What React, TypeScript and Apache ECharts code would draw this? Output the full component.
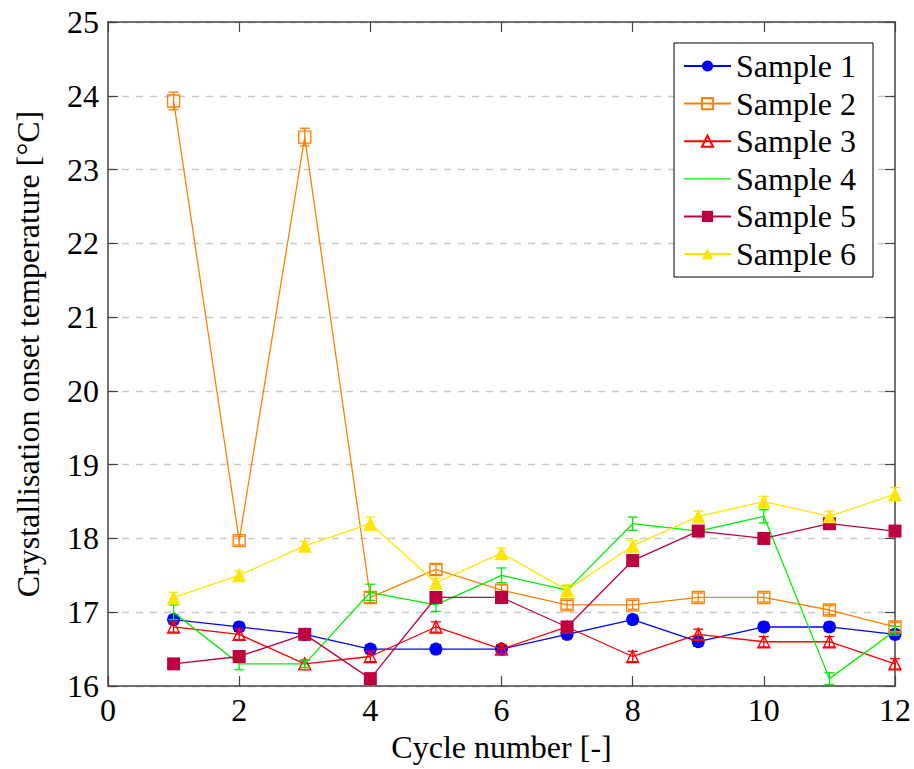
import React, { useEffect, useRef } from "react";
import * as echarts from "echarts";

// Cycle numbers on the x axis
const cycles = [1, 2, 3, 4, 5, 6, 7, 8, 9, 10, 11, 12];

// Crystallisation onset temperatures per sample (°C)
const sample1 = [16.9, 16.8, 16.7, 16.5, 16.5, 16.5, 16.7, 16.9, 16.6, 16.8, 16.8, 16.7];
const sample2 = [23.93, 17.97, 23.44, 17.2, 17.58, 17.3, 17.1, 17.1, 17.2, 17.2, 17.03, 16.8];
const sample3 = [16.8, 16.7, 16.3, 16.4, 16.8, 16.5, 16.8, 16.4, 16.7, 16.6, 16.6, 16.3];
const sample4 = [17.0, 16.3, 16.3, 17.27, 17.1, 17.5, 17.3, 18.2, 18.1, 18.3, 16.1, 16.75];
const sample5 = [16.3, 16.4, 16.7, 16.1, 17.2, 17.2, 16.8, 17.7, 18.1, 18.0, 18.2, 18.1];
const sample6 = [17.2, 17.5, 17.9, 18.2, 17.4, 17.8, 17.3, 17.9, 18.3, 18.5, 18.3, 18.6];

// Standard deviations (error bar half-heights)
const err1 = [0.06, 0.06, 0.05, 0.06, 0.06, 0.06, 0.06, 0.06, 0.06, 0.06, 0.06, 0.06];
const err2 = [0.12, 0.06, 0.12, 0.07, 0.07, 0.07, 0.06, 0.06, 0.06, 0.06, 0.06, 0.06];
const err3 = [0.07, 0.07, 0.05, 0.07, 0.07, 0.06, 0.07, 0.07, 0.07, 0.07, 0.07, 0.07];
const err4 = [0.1, 0.08, 0.05, 0.11, 0.09, 0.1, 0.06, 0.09, 0.05, 0.09, 0.08, 0.06];
const err5 = [0.03, 0.03, 0.03, 0.03, 0.03, 0.03, 0.03, 0.03, 0.03, 0.03, 0.03, 0.03];
const err6 = [0.07, 0.06, 0.06, 0.09, 0.06, 0.07, 0.07, 0.07, 0.07, 0.07, 0.07, 0.09];

const seriesNames = ["Sample 1", "Sample 2", "Sample 3", "Sample 4", "Sample 5", "Sample 6"];
const seriesValues = [sample1, sample2, sample3, sample4, sample5, sample6];
const seriesErrors = [err1, err2, err3, err4, err5, err6];
const seriesColors = ["#0000ff", "#ff8000", "#ff0000", "#00ee00", "#bf0040", "#ffe600"];

// Marker style per sample: [symbol, size, hollow]
const markers: [string, number, boolean][] = [
  ["circle", 13, false],
  ["rect", 12, true],
  ["triangle", 12, true],
  ["none", 0, false],
  ["rect", 13, false],
  ["triangle", 14, false],
];

const xTicks = { min: 0, max: 12, interval: 2 };
const yTicks = { min: 16, max: 25, interval: 1 };

const FONT = "Liberation Serif";
const FRAME = "#444444";

export default function App() {
  const ref = useRef<HTMLDivElement>(null);

  useEffect(() => {
    if (!ref.current) return;
    const chart = echarts.init(ref.current, undefined, { renderer: "svg" });

    const lineSeries: any[] = seriesNames.map((name, i) => {
      const [symbol, size, hollow] = markers[i];
      const color = seriesColors[i];
      return {
        name,
        type: "line",
        data: cycles.map((c, k) => [c, seriesValues[i][k]]),
        symbol,
        symbolSize: size,
        showSymbol: symbol !== "none",
        lineStyle: { color, width: 1.3 },
        itemStyle: hollow
          ? { color: "rgba(255,255,255,0)", borderColor: color, borderWidth: 1.4 }
          : { color, borderWidth: 0 },
        z: 3 + i * 2,
        emphasis: { disabled: true },
      };
    });

    const errorSeries: any[] = seriesNames.map((name, i) => {
      const color = seriesColors[i];
      return {
        name: name + " error",
        type: "custom",
        data: cycles.map((c, k) => [c, seriesValues[i][k], seriesErrors[i][k]]),
        encode: { x: 0, y: 1 },
        z: 4 + i * 2,
        silent: true,
        renderItem: (params: any, api: any) => {
          const x = api.value(0);
          const y = api.value(1);
          const e = api.value(2);
          const top = api.coord([x, y + e]);
          const bot = api.coord([x, y - e]);
          const cap = 5;
          const style = { stroke: color, lineWidth: 1.3 };
          return {
            type: "group",
            children: [
              { type: "line", shape: { x1: top[0], y1: top[1], x2: bot[0], y2: bot[1] }, style },
              { type: "line", shape: { x1: top[0] - cap, y1: top[1], x2: top[0] + cap, y2: top[1] }, style },
              { type: "line", shape: { x1: bot[0] - cap, y1: bot[1], x2: bot[0] + cap, y2: bot[1] }, style },
            ],
          };
        },
      };
    });

    const labelStyle = { fontFamily: FONT, fontSize: 32, color: "#000" };

    // Legend entries; a sample drawn without markers shows only a short line
    const legendData = seriesNames.map((name, i) =>
      markers[i][0] === "none"
        ? { name, icon: "path://M0,0H47V1.3H0Z" }
        : { name }
    );

    chart.setOption({
      animation: false,
      backgroundColor: "#fff",
      grid: { left: 108, top: 22, right: 17, bottom: 83, containLabel: false },
      legend: {
        data: legendData,
        orient: "vertical",
        right: 41,
        top: 43,
        backgroundColor: "#fff",
        borderColor: "#000",
        borderWidth: 1,
        borderRadius: 0,
        padding: [7, 17, 7, 9],
        itemWidth: 47,
        itemHeight: 14,
        itemGap: 5.6,
        selectedMode: false,
        textStyle: { ...labelStyle, lineHeight: 32 },
      },
      xAxis: [
        {
          type: "value",
          position: "bottom",
          ...xTicks,
          name: "Cycle number [-]",
          nameLocation: "middle",
          nameGap: 42,
          nameTextStyle: labelStyle,
          axisLine: { show: true, onZero: false, lineStyle: { color: FRAME, width: 1.5 } },
          axisTick: { show: true, inside: true, length: 10, lineStyle: { color: FRAME, width: 1.2 } },
          axisLabel: { ...labelStyle, margin: 8, showMinLabel: true, showMaxLabel: true },
          splitLine: { show: false },
        },
        {
          type: "value",
          position: "top",
          ...xTicks,
          axisLine: { show: true, onZero: false, lineStyle: { color: FRAME, width: 1.5 } },
          axisTick: { show: true, inside: true, length: 10, lineStyle: { color: FRAME, width: 1.2 } },
          axisLabel: { show: false },
          splitLine: { show: false },
        },
      ],
      yAxis: [
        {
          type: "value",
          position: "left",
          ...yTicks,
          name: "Crystallisation onset temperature [°C]",
          nameLocation: "middle",
          nameGap: 64,
          nameTextStyle: labelStyle,
          axisLine: { show: true, onZero: false, lineStyle: { color: FRAME, width: 1.5 } },
          axisTick: { show: true, inside: true, length: 10, lineStyle: { color: FRAME, width: 1.2 } },
          axisLabel: { ...labelStyle, margin: 9, showMinLabel: true, showMaxLabel: true },
          splitLine: { show: true, lineStyle: { color: "#c8c8c8", width: 1.3, type: [7, 7] } },
        },
        {
          type: "value",
          position: "right",
          ...yTicks,
          axisLine: { show: true, onZero: false, lineStyle: { color: FRAME, width: 1.5 } },
          axisTick: { show: true, inside: true, length: 10, lineStyle: { color: FRAME, width: 1.2 } },
          axisLabel: { show: false },
          splitLine: { show: false },
        },
      ],
      series: [...lineSeries, ...errorSeries],
    });

    return () => chart.dispose();
  }, []);

  return (
    <div
      ref={ref}
      style={{ position: "fixed", left: 0, top: 0, width: 914, height: 769 }}
    />
  );
}
